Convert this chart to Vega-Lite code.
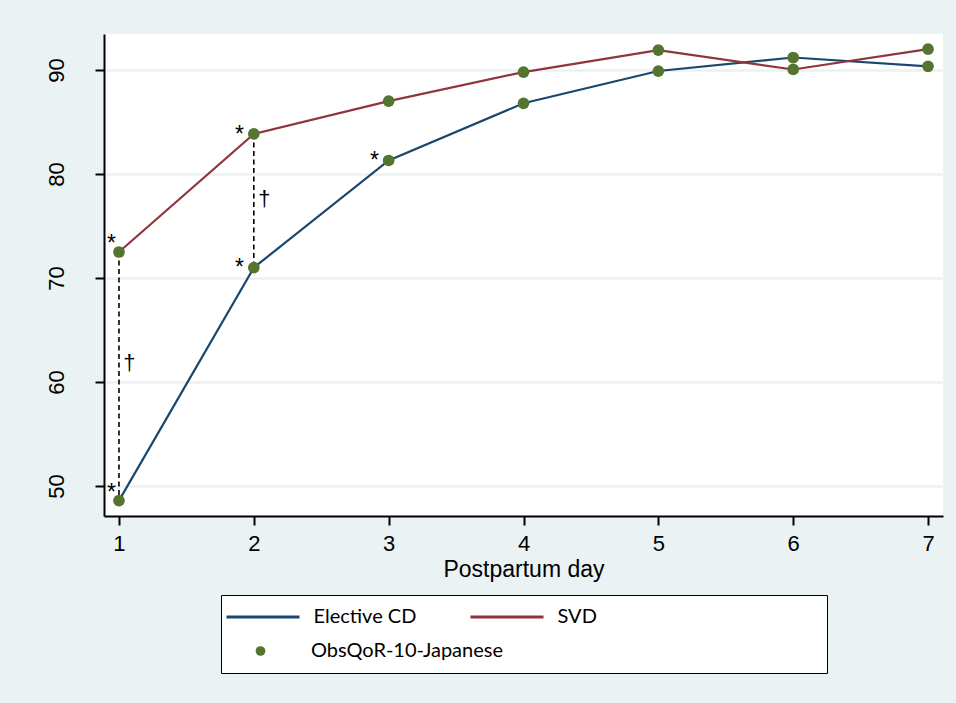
{
  "$schema": "https://vega.github.io/schema/vega-lite/v6.json",
  "autosize": {"type": "none"},
  "width": 839,
  "height": 482,
  "padding": {"left": 104, "top": 34, "right": 13, "bottom": 187},
  "background": "#EAF2F3",
  "datasets": {
    "scores": [
      {"day": 1, "group": "Elective CD", "score": 48.6, "sig": "*"},
      {"day": 2, "group": "Elective CD", "score": 71.0, "sig": "*"},
      {"day": 3, "group": "Elective CD", "score": 81.3, "sig": "*"},
      {"day": 4, "group": "Elective CD", "score": 86.8, "sig": ""},
      {"day": 5, "group": "Elective CD", "score": 89.9, "sig": ""},
      {"day": 6, "group": "Elective CD", "score": 91.2, "sig": ""},
      {"day": 7, "group": "Elective CD", "score": 90.35, "sig": ""},
      {"day": 1, "group": "SVD", "score": 72.5, "sig": "*"},
      {"day": 2, "group": "SVD", "score": 83.85, "sig": "*"},
      {"day": 3, "group": "SVD", "score": 87.0, "sig": ""},
      {"day": 4, "group": "SVD", "score": 89.8, "sig": ""},
      {"day": 5, "group": "SVD", "score": 91.9, "sig": ""},
      {"day": 6, "group": "SVD", "score": 90.05, "sig": ""},
      {"day": 7, "group": "SVD", "score": 92.0, "sig": ""}
    ],
    "diffs": [
      {"day": 1, "svd": 72.5, "cd": 48.6, "mark_y": 61.85, "mark": "†"},
      {"day": 2, "svd": 83.85, "cd": 71.0, "mark_y": 77.6, "mark": "†"}
    ]
  },
  "config": {
    "view": {"stroke": null, "fill": "#FFFFFF"},
    "axis": {
      "labelFont": "Liberation Sans",
      "labelFontSize": 22,
      "labelColor": "#000000",
      "titleFont": "Liberation Sans",
      "titleFontSize": 23,
      "titleFontWeight": "normal",
      "titleColor": "#000000",
      "domainColor": "#000000",
      "domainWidth": 2,
      "tickColor": "#000000",
      "tickWidth": 2,
      "tickSize": 9
    }
  },
  "layer": [
    {
      "data": {"name": "diffs"},
      "mark": {"type": "rule", "color": "#000000", "strokeWidth": 1.6, "strokeDash": [5, 3.5]},
      "encoding": {
        "x": {"field": "day", "type": "quantitative"},
        "y": {"field": "svd", "type": "quantitative"},
        "y2": {"field": "cd"}
      }
    },
    {
      "data": {"name": "scores"},
      "mark": {"type": "line", "strokeWidth": 2.2},
      "encoding": {
        "x": {
          "field": "day", "type": "quantitative",
          "scale": {"domain": [0.889, 7.111], "nice": false, "zero": false},
          "axis": {"values": [1, 2, 3, 4, 5, 6, 7], "title": "Postpartum day", "grid": false, "labelPadding": 8, "titlePadding": 4, "format": "d"}
        },
        "y": {
          "field": "score", "type": "quantitative",
          "scale": {"domain": [47.12, 93.46], "nice": false, "zero": false},
          "axis": {"values": [50, 60, 70, 80, 90], "title": null, "labelAngle": -90, "labelPadding": 27, "grid": true, "gridColor": "#EAF2F3", "gridWidth": 2.5, "format": "d"}
        },
        "color": {
          "field": "group", "type": "nominal",
          "scale": {"domain": ["Elective CD", "SVD"], "range": ["#1A476F", "#90353B"]},
          "legend": {
            "title": null,
            "orient": "none",
            "legendX": 117,
            "legendY": 561,
            "direction": "horizontal",
            "zindex": 0,
            "strokeColor": "#000000",
            "fillColor": "#FFFFFF",
            "padding": 4,
            "symbolType": "stroke",
            "symbolSize": 5329,
            "symbolStrokeWidth": 3,
            "symbolOpacity": 1,
            "clipHeight": 70,
            "columnPadding": 52,
            "labelOffset": 12.5,
            "labelFont": "Lato",
            "labelFontSize": 20,
            "labelColor": "#000000",
            "labelLimit": 600,
            "labelExpr": "datum.label == 'SVD' ? pad('SVD', 47, ' ', 'right') + '\u200b' : datum.label",
            "encode": {
              "symbols": {"update": {"y": {"value": 18}, "stroke": {"scale": "color", "field": "value"}, "opacity": {"value": 1}}},
              "labels": {"update": {"y": {"value": 18}}}
            }
          }
        }
      }
    },
    {
      "data": {"name": "scores"},
      "mark": {"type": "point", "filled": true, "opacity": 1, "size": 137, "color": "#55752F"},
      "encoding": {
        "x": {"field": "day", "type": "quantitative"},
        "y": {"field": "score", "type": "quantitative"},
        "shape": {
          "datum": "ObsQoR-10-Japanese",
          "scale": {"domain": ["ObsQoR-10-Japanese"], "range": ["circle"]},
          "legend": {
            "title": null,
            "orient": "none",
            "legendX": 117,
            "legendY": 595,
            "zindex": 1,
            "padding": 4,
            "symbolSize": 95,
            "symbolStrokeWidth": 1,
            "symbolOffset": 25.5,
            "clipHeight": 36,
            "labelOffset": 40.5,
            "labelFont": "Lato",
            "labelFontSize": 20,
            "labelColor": "#000000",
            "labelLimit": 600,
            "encode": {
              "symbols": {
                "update": {
                  "fill": {"value": "#55752F"},
                  "stroke": {"value": "#55752F"},
                  "opacity": {"value": 1}
                }
              }
            }
          }
        }
      }
    },
    {
      "data": {"name": "scores"},
      "transform": [{"filter": "datum.sig == '*' && datum.day == 1"}],
      "mark": {"type": "text", "font": "Liberation Sans", "fontSize": 23, "color": "#000000", "align": "center", "baseline": "alphabetic", "dx": -7.5, "dy": -1},
      "encoding": {
        "x": {"field": "day", "type": "quantitative"},
        "y": {"field": "score", "type": "quantitative"},
        "text": {"field": "sig"}
      }
    },
    {
      "data": {"name": "scores"},
      "transform": [{"filter": "datum.sig == '*' && datum.day != 1"}],
      "mark": {"type": "text", "font": "Liberation Sans", "fontSize": 23, "color": "#000000", "align": "center", "baseline": "alphabetic", "dx": -14.3, "dy": 7.8},
      "encoding": {
        "x": {"field": "day", "type": "quantitative"},
        "y": {"field": "score", "type": "quantitative"},
        "text": {"field": "sig"}
      }
    },
    {
      "data": {"name": "diffs"},
      "mark": {"type": "text", "font": "Liberation Sans", "fontSize": 22, "color": "#000000", "align": "center", "baseline": "middle", "dx": 10.5},
      "encoding": {
        "x": {"field": "day", "type": "quantitative"},
        "y": {"field": "mark_y", "type": "quantitative"},
        "text": {"field": "mark"}
      }
    }
  ]
}
